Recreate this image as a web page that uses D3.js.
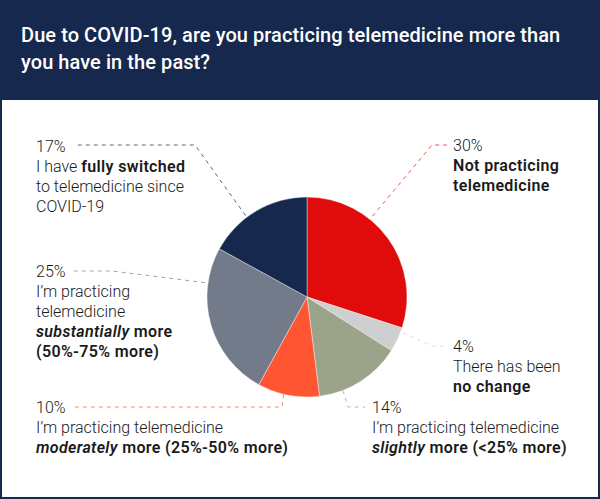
<!DOCTYPE html>
<html>
<head>
<meta charset="utf-8">
<script src="https://cdn.jsdelivr.net/npm/d3@7/dist/d3.min.js"></script>
<style>
  body { margin: 0; background: #fff; }
  svg { display: block; }
</style>
</head>
<body>
<svg id="chart"></svg>
<script>
// data
const categories = ['Not practicing', 'No change', 'Slightly more', 'Moderately more', 'Substantially more', 'Fully switched'];
const values = [30, 4, 14, 10, 25, 17];
const colors = ['#e00c0c', '#cfcfcf', '#9ba38a', '#ff5533', '#737a89', '#16284d'];
const pctLabels = ['30%', '4%', '14%', '10%', '25%', '17%'];

// label text, one array of spans per line (w = bold, i = italic)
const labelLines = [
  [[{ t: 'Not practicing', w: 1 }], [{ t: 'telemedicine', w: 1 }]],
  [[{ t: 'There has been' }], [{ t: 'no change', w: 1 }]],
  [[{ t: 'I\u2019m practicing telemedicine' }], [{ t: 'slightly', w: 1, i: 1 }, { t: ' more (<25% more)', w: 1 }]],
  [[{ t: 'I\u2019m practicing telemedicine' }], [{ t: 'moderately', w: 1, i: 1 }, { t: ' more (25%-50% more)', w: 1 }]],
  [[{ t: 'I\u2019m practicing' }], [{ t: 'telemedicine' }], [{ t: 'substantially', w: 1, i: 1 }, { t: ' more', w: 1 }], [{ t: '(50%-75% more)', w: 1 }]],
  [[{ t: 'I have ' }, { t: 'fully switched', w: 1 }], [{ t: 'to telemedicine since' }], [{ t: 'COVID-19' }]]
];

const width = 600;
const height = 499;
const cx = 307;
const cy = 297;
const radius = 100;
const font = 'Roboto, "Noto Sans", sans-serif';

// label placement + leader geometry (angle in degrees from 12 o'clock)
const layout = [
  { x: 453, y: 151, ang: 39, r: 104, pts: [[432, 145], [447, 145]] },
  { x: 453, y: 352, ang: 110.6, r: 102, pts: [[432, 346], [447, 346]] },
  { x: 372, y: 413, ang: 159, r: 100, pts: [[348, 407], [365, 407]] },
  { x: 36, y: 413, ang: 193.5, r: 100, pts: [[282, 407], [74, 407]] },
  { x: 36, y: 277, ang: 278, r: 103, pts: [[112, 271], [73, 271]] },
  { x: 36, y: 152, ang: 323, r: 102, pts: [[195, 145], [77, 145]] }
];

const svg = d3.select('#chart')
  .attr('width', width)
  .attr('height', height);

// frame + header
svg.append('rect')
  .attr('x', 0).attr('y', 0)
  .attr('width', width).attr('height', height)
  .attr('fill', '#16284d');
svg.append('rect')
  .attr('x', 2).attr('y', 100)
  .attr('width', width - 4).attr('height', height - 102)
  .attr('fill', '#fff');

const title = svg.append('text')
  .attr('font-family', font)
  .attr('font-size', 20)
  .attr('font-weight', 500)
  .attr('letter-spacing', 0.07)
  .attr('fill', '#fff');
title.append('tspan').attr('x', 21).attr('y', 42)
  .text('Due to COVID-19, are you practicing telemedicine more than');
title.append('tspan').attr('x', 21).attr('y', 69)
  .text('you have in the past?');

// pie
const pie = d3.pie().sort(null).value(d => d);
const arcs = pie(values);
const arc = d3.arc().innerRadius(0).outerRadius(radius);

const g = svg.append('g').attr('transform', `translate(${cx},${cy})`);
g.selectAll('path')
  .data(arcs)
  .enter().append('path')
  .attr('d', arc)
  .attr('fill', (d, i) => colors[i])
  .attr('stroke', '#fff')
  .attr('stroke-width', 0.4);

// leaders
const line = d3.line();
svg.append('g')
  .selectAll('path')
  .data(layout)
  .enter().append('path')
  .attr('d', d => {
    const p = d3.pointRadial(d.ang * Math.PI / 180, d.r);
    return line([[cx + p[0], cy + p[1]], ...d.pts]);
  })
  .attr('fill', 'none')
  .attr('stroke', (d, i) => colors[i])
  .attr('stroke-opacity', 0.7)
  .attr('stroke-width', 1)
  .attr('stroke-dasharray', '4,4');

// labels
const lineH = 20;
layout.forEach((d, i) => {
  const t = svg.append('text')
    .attr('font-family', font)
    .attr('font-size', 16)
    .attr('fill', '#1a1a1a');
  t.append('tspan')
    .attr('x', d.x).attr('y', d.y)
    .attr('font-weight', 300)
    .text(pctLabels[i]);
  labelLines[i].forEach((spans, j) => {
    spans.forEach((s, k) => {
      const ts = t.append('tspan')
        .attr('font-weight', s.w ? 600 : 300)
        .attr('font-style', s.i ? 'italic' : 'normal')
        .attr('letter-spacing', s.w ? 0.35 : 0)
        .text(s.t);
      if (k === 0) ts.attr('x', d.x).attr('y', d.y + lineH * (j + 1));
    });
  });
});
</script>
</body>
</html>
